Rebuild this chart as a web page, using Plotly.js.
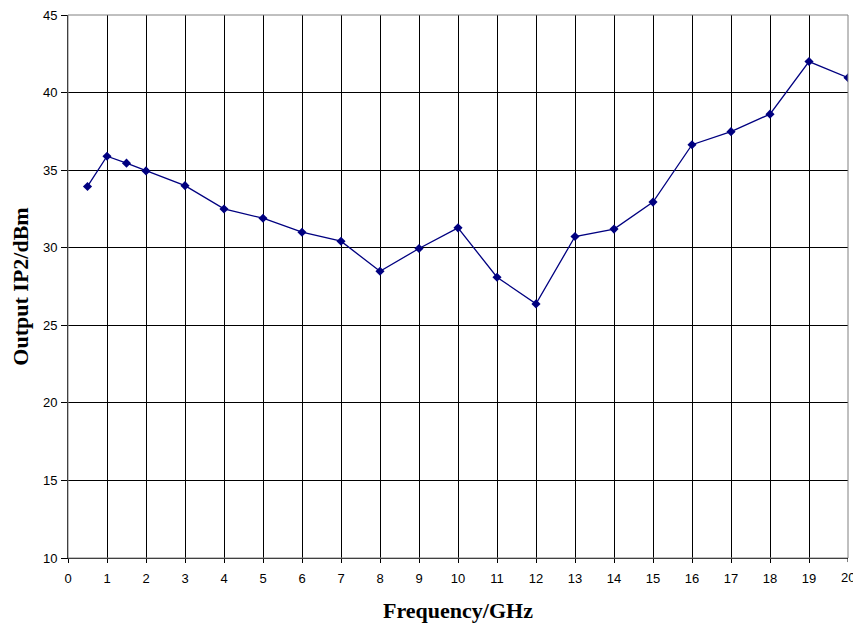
<!DOCTYPE html>
<html>
<head>
<meta charset="utf-8">
<script src="https://cdn.plot.ly/plotly-3.0.1.min.js"></script>
<style>html,body{margin:0;padding:0;background:#fff;}#chart{width:853px;height:624px;}</style>
</head>
<body>
<div id="chart"></div>
<script>
const frequency = [0.5, 1, 1.5, 2, 3, 4, 5, 6, 7, 8, 9, 10, 11, 12, 13, 14, 15, 16, 17, 18, 19, 20];
const outputIP2 = [33.95, 35.9, 35.45, 34.95, 34.0, 32.5, 31.9, 31.0, 30.42, 28.48, 29.95, 31.28, 28.1, 26.38, 30.72, 31.2, 32.94, 36.64, 37.48, 38.61, 42.0, 40.96];
const xTicks = [0,1,2,3,4,5,6,7,8,9,10,11,12,13,14,15,16,17,18,19,20];
const yTicks = [10,15,20,25,30,35,40,45];
const tickFont = {family: 'Liberation Sans, Arial, sans-serif', size: 13, color: '#000'};
const titleFont = {family: 'Liberation Serif, Times New Roman, serif', size: 22, color: '#000', weight: 'bold'};

const trace = {
  x: frequency, y: outputIP2, type: 'scatter', mode: 'lines+markers',
  line: {color: '#000080', width: 1.3},
  marker: {symbol: 'diamond', size: 7, color: '#000080'},
  hoverinfo: 'skip'
};
const lastTick = xTicks[xTicks.length - 1];
const layout = {
  width: 853, height: 624,
  margin: {l: 68, r: 5, t: 15, b: 66},
  paper_bgcolor: '#fff', plot_bgcolor: '#fff',
  showlegend: false,
  font: tickFont,
  xaxis: {
    range: [0, 20], tickvals: xTicks.slice(0, -1), ticktext: xTicks.slice(0, -1).map(String),
    tickfont: tickFont, ticklabelstandoff: 4,
    showgrid: true, gridcolor: '#000', gridwidth: 1,
    showline: true, linecolor: '#000', linewidth: 1,
    ticks: 'outside', ticklen: 4, tickcolor: '#000',
    zeroline: false,
    title: {text: 'Frequency/GHz', font: titleFont, standoff: 18}
  },
  yaxis: {
    range: [10, 45], tickvals: yTicks, ticktext: yTicks.map(String),
    tickfont: tickFont, ticklabelstandoff: 1,
    showgrid: true, gridcolor: '#000', gridwidth: 1,
    showline: true, linecolor: '#000', linewidth: 1,
    ticks: 'outside', ticklen: 6, tickcolor: '#000',
    zeroline: false,
    title: {text: 'Output IP2/dBm', font: titleFont, standoff: 8}
  },
  annotations: [{
    x: lastTick, xref: 'x', y: 0, yref: 'paper', yanchor: 'top', xanchor: 'center',
    yshift: -10, text: String(lastTick), showarrow: false, font: tickFont
  }],
  shapes: [
    {type: 'rect', xref: 'paper', yref: 'paper', x0: 0, x1: 1, y0: 0, y1: 1, line: {color: '#808080', width: 1}},
    {type: 'line', xref: 'x', yref: 'paper', x0: lastTick, x1: lastTick, y0: 0, y1: -0.0075, line: {color: '#000', width: 1}}
  ]
};
Plotly.newPlot('chart', [trace], layout, {displayModeBar: false, staticPlot: true});
</script>
</body>
</html>
